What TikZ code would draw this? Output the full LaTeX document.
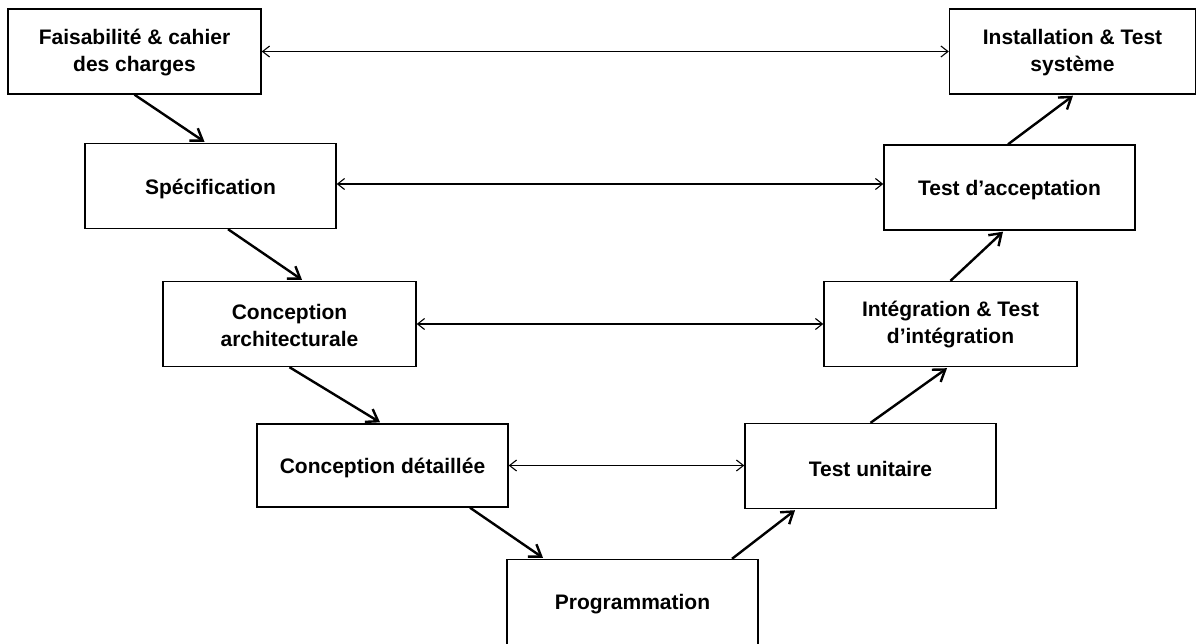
\documentclass[tikz,border=0pt]{standalone}
\usepackage{fontspec}
\setmainfont{Liberation Sans}
\usetikzlibrary{arrows.meta}
\begin{document}
\begin{tikzpicture}[x=1pt,y=-1pt,
  phase/.style={draw, line width=1.4pt, rectangle, minimum width=251pt, minimum height=85pt, inner sep=0pt},
  caption/.style={align=center, inner sep=0pt, font=\fontsize{21}{27}\selectfont\bfseries},
  oneline/.style={caption, yshift=-2.5pt},
  twolines/.style={caption, yshift=-1pt},
  flow/.style={line width=2.4pt, -{Straight Barb[length=11pt,width=15pt,line width=2.4pt]}},
  link/.style={line width=1.1pt, {Straight Barb[length=7pt,width=11pt,line width=1.1pt]}-{Straight Barb[length=7pt,width=11pt,line width=1.1pt]}}]
\useasboundingbox (0,0) rectangle (1197,643);
\fill[white] (0,0) rectangle (1197,643);

% descending branch
\node[phase, minimum width=253pt, label={[twolines]center:{Faisabilité \& cahier\\des charges}}] (b1) at (134.5,51.5) {};
\node[phase, label={[oneline]center:Spécification}] (b2) at (210.5,186) {};
\node[phase, minimum width=253pt, label={[twolines]center:{Conception\\architecturale}}] (b3) at (289.5,324) {};
\node[phase, minimum height=83pt, label={[oneline]center:Conception détaillée}] (b4) at (382.5,465.5) {};
% bottom of the V
\node[phase, label={[oneline]center:Programmation}] (b5) at (632.5,602) {};
% ascending branch
\node[phase, label={[oneline]center:Test unitaire}] (b6) at (870.5,466) {};
\node[phase, minimum width=253pt, label={[twolines]center:{Intégration \& Test\\d’intégration}}] (b7) at (950.5,324) {};
\node[phase, label={[oneline]center:Test d’acceptation}] (b8) at (1009.5,187.5) {};
\node[phase, minimum width=246pt, label={[twolines]center:{Installation \& Test\\système}}] (b9) at (1072.5,51.5) {};

% sequence of phases
\draw[flow] (b1.south) -- ([xshift=-6pt,yshift=1pt]b2.north);
\draw[flow] ([xshift=17.5pt]b2.south) -- ([xshift=12.5pt,yshift=1pt]b3.north);
\draw[flow] (b3.south) -- ([xshift=-2.5pt,yshift=1pt]b4.north);
\draw[flow] ([xshift=87.5pt]b4.south) -- ([xshift=-89.5pt,yshift=1pt]b5.north);
\draw[flow] ([xshift=99.5pt]b5.north) -- ([xshift=-75.5pt,yshift=-1pt]b6.south);
\draw[flow] (b6.north) -- ([xshift=-3.5pt,yshift=-1pt]b7.south);
\draw[flow] (b7.north) -- ([xshift=-6.5pt,yshift=-1pt]b8.south);
\draw[flow] ([xshift=-1.5pt]b8.north) -- ([xshift=0.5pt,yshift=-1pt]b9.south);

% correspondence between design and test phases
\draw[link] (b1.east) -- (b1.east -| b9.west);
\draw[link] ([yshift=2pt]b2.east) -- ([yshift=2pt]b2.east -| b8.west);
\draw[link] (b3.east) -- (b3.east -| b7.west);
\draw[link] (b4.east) -- (b4.east -| b6.west);
\end{tikzpicture}
\end{document}
